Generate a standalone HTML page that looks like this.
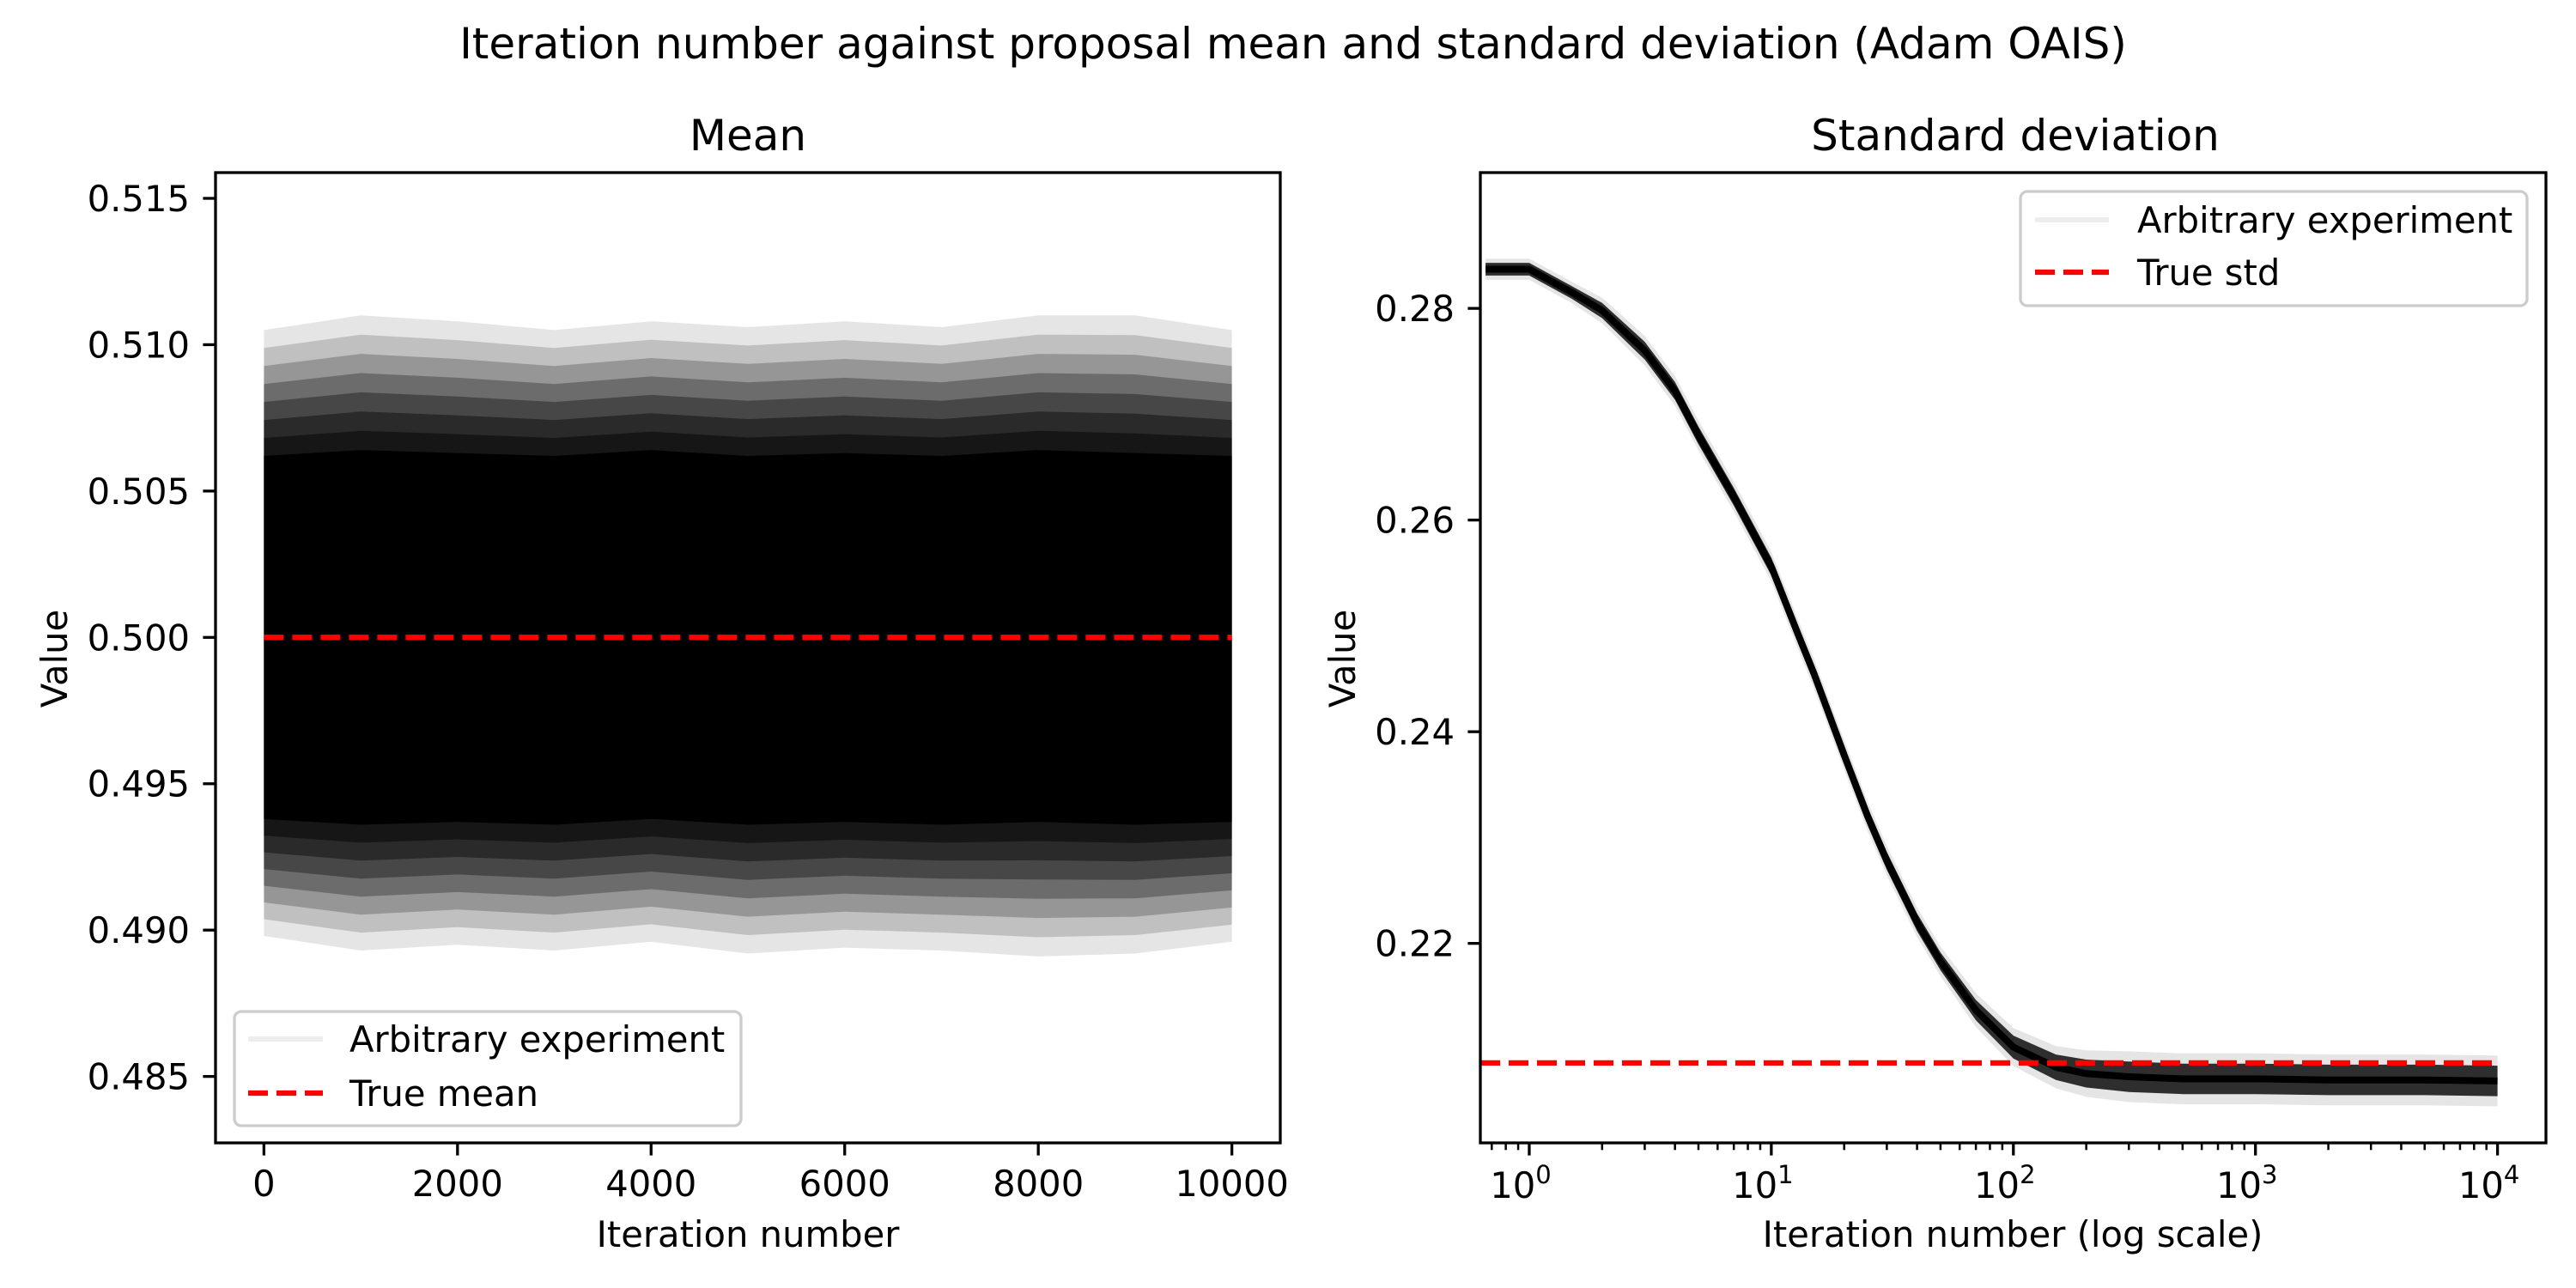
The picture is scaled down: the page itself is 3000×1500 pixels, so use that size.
<!DOCTYPE html>
<html><head><meta charset="utf-8"><style>
html,body{margin:0;padding:0;background:#fff;}
svg{display:block;font-family:"DejaVu Sans","Liberation Sans",sans-serif;}
</style></head><body>
<svg id="fig" width="3000" height="1500" viewBox="0 0 3000 1500" xmlns="http://www.w3.org/2000/svg">
<rect width="3000" height="1500" fill="#fff"/>
<text x="1506" y="68" font-size="50" text-anchor="middle">Iteration number against proposal mean and standard deviation (Adam OAIS)</text>
<text x="871" y="175" font-size="50" text-anchor="middle">Mean</text>
<text x="2347" y="175" font-size="50" text-anchor="middle">Standard deviation</text>
<g id="left"></g>
<g id="right"></g>
</svg>
<script>
// ---- Mean panel data (envelopes of the many noisy runs) ----
const meanBins = [0, 1000, 2000, 3000, 4000, 5000, 6000, 7000, 8000, 9000, 10000];
const meanCoreHi = [0.5062, 0.5064, 0.5063, 0.5062, 0.5064, 0.5062, 0.5063, 0.5062, 0.5064, 0.5063, 0.5062];
const meanCoreLo = [0.4938, 0.4936, 0.4937, 0.4936, 0.4938, 0.4936, 0.4937, 0.4936, 0.4937, 0.4936, 0.4937];
const meanFaintHi = [0.5105, 0.5110, 0.5108, 0.5105, 0.5108, 0.5106, 0.5108, 0.5106, 0.5110, 0.5110, 0.5105];
const meanFaintLo = [0.4898, 0.4893, 0.4895, 0.4893, 0.4896, 0.4892, 0.4894, 0.4893, 0.4891, 0.4892, 0.4896];
const trueMean = 0.5;
const meanXTicks = [0, 2000, 4000, 6000, 8000, 10000];
const meanYTicks = [0.485, 0.490, 0.495, 0.500, 0.505, 0.510, 0.515];
// ---- Std panel data ----
const stdIter = [0.66, 1, 1.5, 2, 3, 4, 5, 7, 10, 13, 15, 20, 25, 30, 40, 50, 70, 100, 150, 200, 300, 500, 1000, 2000, 5000, 10000];
const stdVal = [0.2837, 0.2837, 0.2815, 0.2798, 0.2760, 0.2722, 0.2680, 0.2622, 0.2556, 0.2490, 0.2455, 0.2378, 0.2320, 0.2278, 0.2220, 0.2183, 0.2137, 0.2102, 0.2083, 0.2077, 0.2074, 0.2072, 0.2072, 0.2071, 0.2071, 0.2070];
const stdSpread = [0.0005, 0.0005, 0.0005, 0.0006, 0.0007, 0.0007, 0.0007, 0.0007, 0.0007, 0.0007, 0.0007, 0.0007, 0.0007, 0.0007, 0.0007, 0.0007, 0.0008, 0.0009, 0.0010, 0.0011, 0.0012, 0.0012, 0.0012, 0.0012, 0.0012, 0.0012];
const trueStd = 0.20871;
const stdYTicks = [0.22, 0.24, 0.26, 0.28];
const stdXTickExps = [0, 1, 2, 3, 4];

const NS = "http://www.w3.org/2000/svg";
function mk(parent, tag, attrs) {
  const e = document.createElementNS(NS, tag);
  for (const k in attrs) e.setAttribute(k, attrs[k]);
  parent.appendChild(e);
  return e;
}
const TOP = 201, BOT = 1331;

// ---------- LEFT ----------
const L = document.getElementById('left');
const lx0 = 251, lx1 = 1491;
const xMin = -500, xMax = 10500;
const yMinL = 0.48273, yMaxL = 0.51588;
const sxL = v => lx0 + (v - xMin) / (xMax - xMin) * (lx1 - lx0);
const syL = v => BOT - (v - yMinL) / (yMaxL - yMinL) * (BOT - TOP);
function band(parent, xs, hi, lo, sx, sy, fill, op, name) {
  let d = '';
  xs.forEach((x, i) => { d += (i ? 'L' : 'M') + sx(x).toFixed(1) + ',' + sy(hi[i]).toFixed(1); });
  for (let i = xs.length - 1; i >= 0; i--) d += 'L' + sx(xs[i]).toFixed(1) + ',' + sy(lo[i]).toFixed(1);
  const p = mk(parent, 'path', { d: d + 'Z', fill: fill, 'fill-opacity': op });
  
  
  return p;
}
// layered envelope: blend from faint to core
const nLayers = 8;
for (let k = 0; k < nLayers; k++) {
  const f = k / (nLayers - 1);
  const hi = meanFaintHi.map((v, i) => v + (meanCoreHi[i] - v) * f);
  const lo = meanFaintLo.map((v, i) => v + (meanCoreLo[i] - v) * f);
  band(L, meanBins, hi, lo, sxL, syL, '#000', k === nLayers - 1 ? 1 : 0.1 + 0.06 * k, 'mean-runs-band');
}
const tm = mk(L, 'line', { x1: sxL(0), x2: sxL(10000), y1: syL(trueMean), y2: syL(trueMean), stroke: '#f00', 'stroke-width': 6.25, 'stroke-dasharray': '23,10' });


const lf = mk(L, 'rect', { x: lx0, y: TOP, width: lx1 - lx0, height: BOT - TOP, fill: 'none', stroke: '#000', 'stroke-width': 3.3 });


meanXTicks.forEach(t => {
  const x = sxL(t);
  const tk = mk(L, 'line', { x1: x, x2: x, y1: BOT, y2: BOT + 14.6, stroke: '#000', 'stroke-width': 3.3 });
  
  
  const tx = mk(L, 'text', { x: x, y: 1393, 'font-size': 41.7, 'text-anchor': 'middle' });
  tx.textContent = String(t);
  
  
});
meanYTicks.forEach(t => {
  const y = syL(t);
  const tk = mk(L, 'line', { x1: lx0 - 14.6, x2: lx0, y1: y, y2: y, stroke: '#000', 'stroke-width': 3.3 });
  
  
  const tx = mk(L, 'text', { x: 221, y: y + 15, 'font-size': 41.7, 'text-anchor': 'end' });
  tx.textContent = t.toFixed(3);
  
  
});
{
  const xl = mk(L, 'text', { x: 871, y: 1452, 'font-size': 41.7, 'text-anchor': 'middle' });
  xl.textContent = 'Iteration number';
  
  
  const yl = mk(L, 'text', { x: 0, y: 0, 'font-size': 41.7, 'text-anchor': 'middle', transform: 'translate(78,767) rotate(-90)' });
  yl.textContent = 'Value';
  
  
  const lg = mk(L, 'g', {});
  
  
  mk(lg, 'rect', { x: 273, y: 1178, width: 590, height: 133, rx: 8, fill: '#fff', 'fill-opacity': 0.8, stroke: '#ccc', 'stroke-width': 3.3 });
  mk(lg, 'line', { x1: 289, x2: 376, y1: 1210, y2: 1210, stroke: '#000', 'stroke-opacity': 0.07, 'stroke-width': 6 });
  const t1 = mk(lg, 'text', { x: 407, y: 1225, 'font-size': 41.7 }); t1.textContent = 'Arbitrary experiment';
   
  mk(lg, 'line', { x1: 289, x2: 376, y1: 1273, y2: 1273, stroke: '#f00', 'stroke-width': 6.25, 'stroke-dasharray': '23,10' });
  const t2 = mk(lg, 'text', { x: 407, y: 1288, 'font-size': 41.7 }); t2.textContent = 'True mean';
   
}

// ---------- RIGHT ----------
const R = document.getElementById('right');
const rx0 = 1724, rx1 = 2965;
const lMin = -0.202, lMax = 4.2;
const sxR = v => rx0 + (Math.log10(v) - lMin) / (lMax - lMin) * (rx1 - rx0);
const yMinR = 0.20115, yMaxR = 0.29283;
const syR = v => BOT - (v - yMinR) / (yMaxR - yMinR) * (BOT - TOP);
const hi2 = stdVal.map((v, i) => v + 2.0 * stdSpread[i]);
const lo2 = stdVal.map((v, i) => v - 2.0 * stdSpread[i]);
const hi1 = stdVal.map((v, i) => v + 1.2 * stdSpread[i]);
const lo1 = stdVal.map((v, i) => v - 1.2 * stdSpread[i]);
band(R, stdIter, hi2, lo2, sxR, syR, '#000', 0.1, 'std-runs-faint-band');
band(R, stdIter, hi1, lo1, sxR, syR, '#000', 0.8, 'std-runs-core-band');
{
  let d = '';
  stdIter.forEach((x, i) => { d += (i ? 'L' : 'M') + sxR(x).toFixed(1) + ',' + syR(stdVal[i]).toFixed(1); });
  const p = mk(R, 'path', { d: d, fill: 'none', stroke: '#000', 'stroke-width': 8, 'stroke-linejoin': 'round' });
  
  
}
const ts = mk(R, 'line', { x1: rx0, x2: sxR(10000), y1: syR(trueStd), y2: syR(trueStd), stroke: '#f00', 'stroke-width': 6.25, 'stroke-dasharray': '23,10' });


const rf = mk(R, 'rect', { x: rx0, y: TOP, width: rx1 - rx0, height: BOT - TOP, fill: 'none', stroke: '#000', 'stroke-width': 3.3 });


for (let e = -1; e <= 4; e++) {
  for (let m = 2; m <= 9; m++) {
    const v = m * Math.pow(10, e);
    const lv = Math.log10(v);
    if (lv < lMin || lv > lMax) continue;
    const x = sxR(v);
    const tk = mk(R, 'line', { x1: x, x2: x, y1: BOT, y2: BOT + 8.3, stroke: '#000', 'stroke-width': 2.5 });
    
    
  }
}
stdXTickExps.forEach(e => {
  const x = sxR(Math.pow(10, e));
  const tk = mk(R, 'line', { x1: x, x2: x, y1: BOT, y2: BOT + 14.6, stroke: '#000', 'stroke-width': 3.3 });
  
  
  const tx = mk(R, 'text', { x: x - 10, y: 1395, 'font-size': 41.7, 'text-anchor': 'middle' });
  
  
  tx.appendChild(document.createTextNode('10'));
  const sp = mk(tx, 'tspan', { dy: -17, 'font-size': 29 });
  sp.textContent = String(e);
});
stdYTicks.forEach(t => {
  const y = syR(t);
  const tk = mk(R, 'line', { x1: rx0 - 14.6, x2: rx0, y1: y, y2: y, stroke: '#000', 'stroke-width': 3.3 });
  
  
  const tx = mk(R, 'text', { x: 1694, y: y + 15, 'font-size': 41.7, 'text-anchor': 'end' });
  tx.textContent = t.toFixed(2);
  
  
});
{
  const xl = mk(R, 'text', { x: 2344, y: 1452, 'font-size': 41.7, 'text-anchor': 'middle' });
  xl.textContent = 'Iteration number (log scale)';
  
  
  const yl = mk(R, 'text', { x: 0, y: 0, 'font-size': 41.7, 'text-anchor': 'middle', transform: 'translate(1578,767) rotate(-90)' });
  yl.textContent = 'Value';
  
  
  const lg = mk(R, 'g', {});
  
  
  mk(lg, 'rect', { x: 2353, y: 223, width: 590, height: 133, rx: 8, fill: '#fff', 'fill-opacity': 0.8, stroke: '#ccc', 'stroke-width': 3.3 });
  mk(lg, 'line', { x1: 2370, x2: 2456, y1: 256, y2: 256, stroke: '#000', 'stroke-opacity': 0.07, 'stroke-width': 6 });
  const t1 = mk(lg, 'text', { x: 2489, y: 271, 'font-size': 41.7 }); t1.textContent = 'Arbitrary experiment';
   
  mk(lg, 'line', { x1: 2370, x2: 2456, y1: 317, y2: 317, stroke: '#f00', 'stroke-width': 6.25, 'stroke-dasharray': '23,10' });
  const t2 = mk(lg, 'text', { x: 2489, y: 332, 'font-size': 41.7 }); t2.textContent = 'True std';
   
}
</script>
</body></html>
